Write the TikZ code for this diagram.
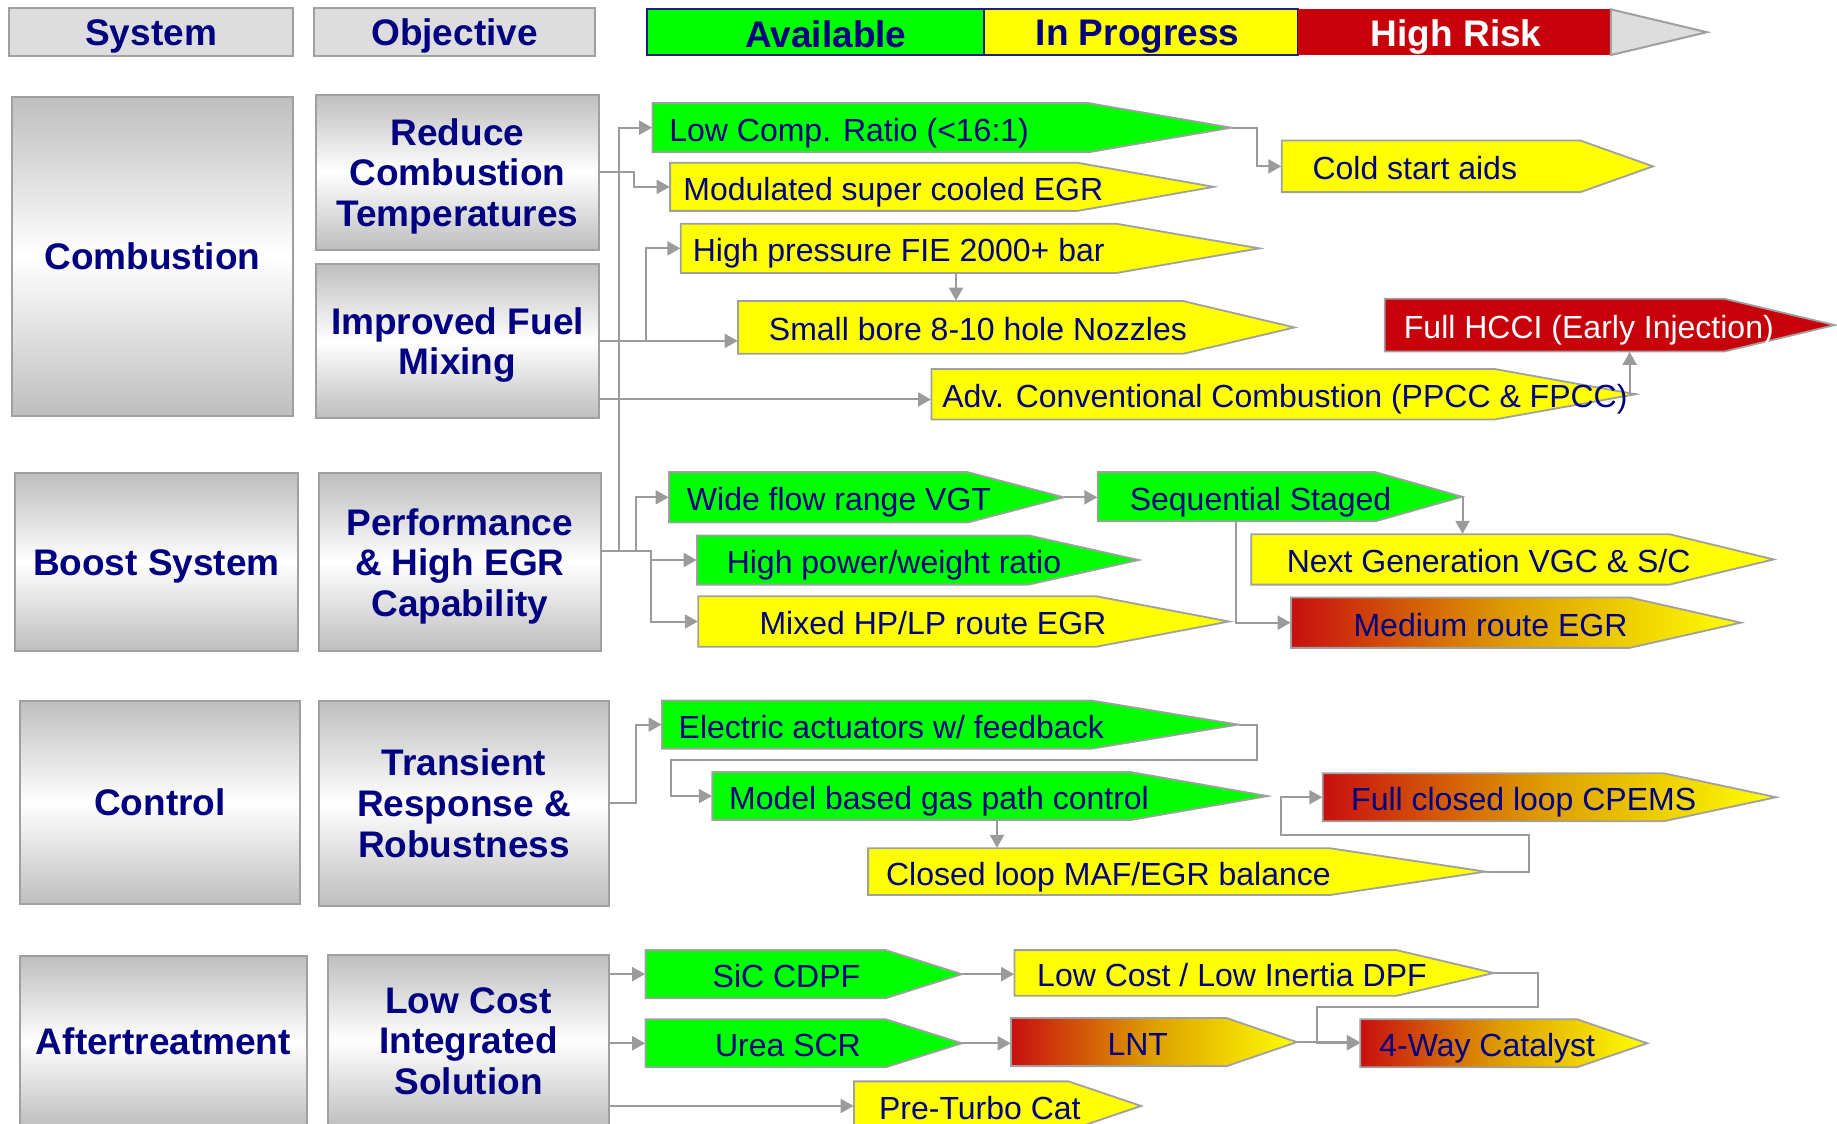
\documentclass[tikz,border=0pt]{standalone}
\usepackage{fontspec}
\setmainfont{Liberation Sans}
\usetikzlibrary{arrows.meta,fit}

\definecolor{navytxt}{RGB}{0,0,128}
\definecolor{tgreen}{RGB}{0,255,0}
\definecolor{tyellow}{RGB}{255,255,0}
\definecolor{tred}{RGB}{200,0,10}
\definecolor{edgegray}{RGB}{160,160,160}
\definecolor{linkgray}{RGB}{155,155,155}
\definecolor{headfill}{RGB}{221,221,221}
\definecolor{boxgray}{RGB}{190,190,190}
\definecolor{legnavy}{RGB}{30,30,130}
\definecolor{gradred}{RGB}{200,15,15}
\definecolor{gradmid}{RGB}{222,160,0}

% gray title box: name, left, top, right, bottom, text
\newcommand\gbox[6]{%
  \node[gboxst, minimum width={(#4-#2)*0.5858pt}, minimum height={(#5-#3)*0.5858pt}]
    (#1) at ({(#2+#4)/2},{(#3+#5)/2}) {#6};}

% pointed tag: name, left, top, bottom, shoulder x, tip x, fill style, text, text x
\newcommand\tagshape[9]{%
  \path[tagbase,#7] (#2,#3) -- (#5,#3) -- (#6,{(#3+#4)/2}) -- (#5,#4) -- (#2,#4) -- cycle;
  \path (#2,#3) coordinate (#1-nw) (#6,#4) coordinate (#1-se);
  \node[fit=(#1-nw)(#1-se), inner sep=0pt] (#1) {};
  \node[taglabel, anchor=base west] (#1-l) at (#9,{(#3+#4)/2+11.5}) {#8};}

\begin{document}
\begin{tikzpicture}[x=0.5858pt,y=-0.5858pt,
  gboxst/.style={draw=edgegray, line width=1pt, top color=boxgray, bottom color=boxgray,
    middle color=white, text=navytxt, font=\bfseries\fontsize{18.5}{20.3}\selectfont,
    align=center, inner sep=0pt, text depth=0pt},
  headst/.style={draw=edgegray, line width=1pt, fill=headfill, text=navytxt,
    font=\bfseries\fontsize{18.5}{20}\selectfont, inner sep=0pt, text depth=0pt},
  legst/.style={inner sep=0pt, minimum height={39*0.5858pt}},
  legtxt/.style={inner sep=0pt, font=\bfseries\fontsize{18.5}{20}\selectfont, text depth=0pt},
  tagbase/.style={draw=edgegray, line width=0.9pt},
  green tag/.style={fill=tgreen},
  yellow tag/.style={fill=tyellow},
  red tag/.style={fill=tred},
  grad tag/.style={left color=gradred, right color=tyellow, middle color=gradmid},
  taglabel/.style={text=navytxt, font=\fontsize{16}{18}\selectfont, inner sep=0pt},
  link/.style={draw=linkgray, line width=1pt, -{Triangle[length=6.5pt,width=7pt]}},
]
\clip (0,0) rectangle (1568,959);
\fill[white] (0,0) rectangle (1568,959);

% ---------- header row ----------
\node[headst, minimum width={242*0.5858pt}, minimum height={41*0.5858pt}] (hsys) at (129,27.5) {System};
\node[headst, minimum width={240*0.5858pt}, minimum height={41*0.5858pt}] (hobj) at (388,27.5) {Objective};
\node[legst, fill=tgreen, draw=legnavy, line width=1pt, minimum width={288*0.5858pt}] (lavail) at (696,27.5) {};
\node[legst, fill=tyellow, draw=legnavy, line width=1pt, minimum width={268*0.5858pt}] (lprog) at (974,27.5) {};
\node[legst, fill=tred, minimum width={267*0.5858pt}] (lrisk) at (1241.5,27.5) {};
\path[draw=edgegray, line width=1pt, fill=headfill] (1375,8) -- (1457,27.5) -- (1375,47) -- cycle;
\node[legtxt, text=navytxt] (lavail-t) at (705,29) {Available};
\node[legtxt, text=navytxt] (lprog-t) at (971,28) {In Progress};
\node[legtxt, text=white] (lrisk-t) at (1243,28) {High Risk};

% ---------- system and objective boxes ----------
\gbox{comb}{10}{83}{250}{355}{Combustion}
\gbox{rct}{270}{81}{511}{213}{Reduce\\Combustion\\Temperatures}
\gbox{ifm}{270}{225}{511}{357}{Improved Fuel\\Mixing}
\gbox{bst}{13}{404}{254}{556}{Boost System}
\gbox{perf}{272}{404}{513}{556}{Performance\\\& High EGR\\Capability}
\gbox{ctl}{17}{598}{256}{772}{Control}
\gbox{trr}{272}{598}{520}{773}{Transient\\Response \&\\Robustness}
\gbox{aft}{17}{816}{262}{962}{Aftertreatment}
\gbox{lci}{280}{815}{520}{962}{Low Cost\\Integrated\\Solution}

% ---------- combustion technologies ----------
\tagshape{lcr}{557}{88}{130}{929}{1051}{green tag}{Low Comp. Ratio (<16:1)}{571}
\tagshape{mod}{572}{139}{180}{920}{1036}{yellow tag}{Modulated super cooled EGR}{583}
\tagshape{hp}{581}{191}{233}{953}{1075}{yellow tag}{High pressure FIE 2000+ bar}{591}
\tagshape{sb}{630}{257}{302}{1010}{1105}{yellow tag}{Small bore 8-10 hole Nozzles}{656}
\tagshape{adv}{795}{315}{358}{1276}{1396}{yellow tag}{Adv. Conventional Combustion (PPCC \& FPCC)}{804}
\tagshape{cold}{1094}{120}{164}{1349}{1411}{yellow tag}{Cold start aids}{1120}
\tagshape{hcci}{1182}{255}{300}{1472}{1566}{red tag}{\color{white}Full HCCI (Early Injection)}{1198}

% ---------- boost technologies ----------
\tagshape{wide}{571}{403}{446}{826}{908}{green tag}{Wide flow range VGT}{586}
\tagshape{seq}{937}{403}{445}{1174}{1248}{green tag}{Sequential Staged}{964}
\tagshape{hpw}{595}{457}{499}{878}{972}{green tag}{High power/weight ratio}{620}
\tagshape{mix}{596}{509}{552}{936}{1049}{yellow tag}{Mixed HP/LP route EGR}{648}
\tagshape{ng}{1068}{456}{499}{1425}{1514}{yellow tag}{Next Generation VGC \& S/C}{1098}
\tagshape{med}{1102}{510}{553}{1391}{1486}{grad tag}{Medium route EGR}{1155}

% ---------- control technologies ----------
\tagshape{ele}{565}{598}{639}{932}{1057}{green tag}{Electric actuators w/ feedback}{579}
\tagshape{mb}{608}{659}{700}{965}{1082}{green tag}{Model based gas path control}{622}
\tagshape{cp}{1129}{660}{701}{1420}{1516}{grad tag}{Full closed loop CPEMS}{1153}
\tagshape{cl}{741}{724}{764}{1135}{1268}{yellow tag}{Closed loop MAF/EGR balance}{756}

% ---------- aftertreatment technologies ----------
\tagshape{sic}{551}{811}{852}{756}{821}{green tag}{SiC CDPF}{608}
\tagshape{urea}{551}{870}{911}{756}{821}{green tag}{Urea SCR}{610}
\tagshape{pre}{729}{923}{965}{912}{974}{yellow tag}{Pre-Turbo Cat}{750}
\tagshape{dpf}{866}{811}{850}{1192}{1275}{yellow tag}{Low Cost / Low Inertia DPF}{885}
\tagshape{lnt}{863}{869}{910}{1047}{1107}{grad tag}{LNT}{945}
\tagshape{fw}{1161}{870}{911}{1346}{1406}{grad tag}{4-Way Catalyst}{1177}

% ---------- routing columns ----------
\coordinate (busA) at (528,0);
\coordinate (busB) at (551,0);
\coordinate (busC) at (816,0);
\coordinate (busD) at (1073,0);
\coordinate (busE) at (1391,0);
\coordinate (busF) at (1055,0);
\coordinate (busG) at (543,0);
\coordinate (busH) at (1073,649);
\coordinate (busI) at (573,0);
\coordinate (busJ) at (851,0);
\coordinate (busK) at (1305,713);
\coordinate (busL) at (1093,0);
\coordinate (busM) at (1313,859.5);
\coordinate (busN) at (1124,0);
\coordinate (busP) at (556,0);
\coordinate (busR) at (541,0);
\path (perf.east) ++(0,-10) coordinate (perfout);
\path (ifm.east) ++(0,50) coordinate (ifmout);

% ---------- connectors ----------
\draw[link] (perfout) -| (busA |- lcr.west) -- (lcr.west);
\draw[link] (perfout) -| (busP |- hpw.west) -- (hpw.west);
\draw[link] (perfout) -| (busP |- mix.west) -- (mix.west);
\draw[link] (perfout) -| (busG |- wide.west) -- (wide.west);
\draw[link] (rct.east) -| (busR |- mod.west) -- (mod.west);
\draw[link] (ifm.east) -- (ifm.east -| sb.west);
\draw[link] (busB |- ifm.east) |- (hp.west);
\draw[link] (ifmout) -- (ifmout -| adv.west);
\draw[link] (busC |- hp.south) -- (busC |- sb.north);
\draw[link] (lcr.east) -| (busD |- cold.west) -- (cold.west);
\draw[link] (adv.east) -| (busE |- hcci.south);

\draw[link] (wide.east) -- (wide.east -| seq.west);
\draw[link] (seq.east) -- (seq.east |- ng.north);
\draw[link] (busF |- seq.south) |- (med.west);

\draw[link] (trr.east) -| (busG |- ele.west) -- (ele.west);
\draw[link] (ele.east) -| (busH) -| (busI |- mb.west) -- (mb.west);
\draw[link] (busJ |- mb.south) -- (busJ |- cl.north);
\draw[link] (cl.east) -| (busK) -| (busL |- cp.west) -- (cp.west);

\draw[link] (lci.east |- sic.west) -- (sic.west);
\draw[link] (lci.east |- urea.west) -- (urea.west);
\draw[link] (lci.east |- pre.west) -- (pre.west);
\draw[link] (sic.east) -- (sic.east -| dpf.west);
\draw[link] (urea.east) -- (urea.east -| lnt.west);
\draw[link] (lnt.east) -- (lnt.east -| fw.west);
\draw[link] (dpf.east) -| (busM) -| (busN |- fw.west) -- (fw.west);
\end{tikzpicture}
\end{document}
